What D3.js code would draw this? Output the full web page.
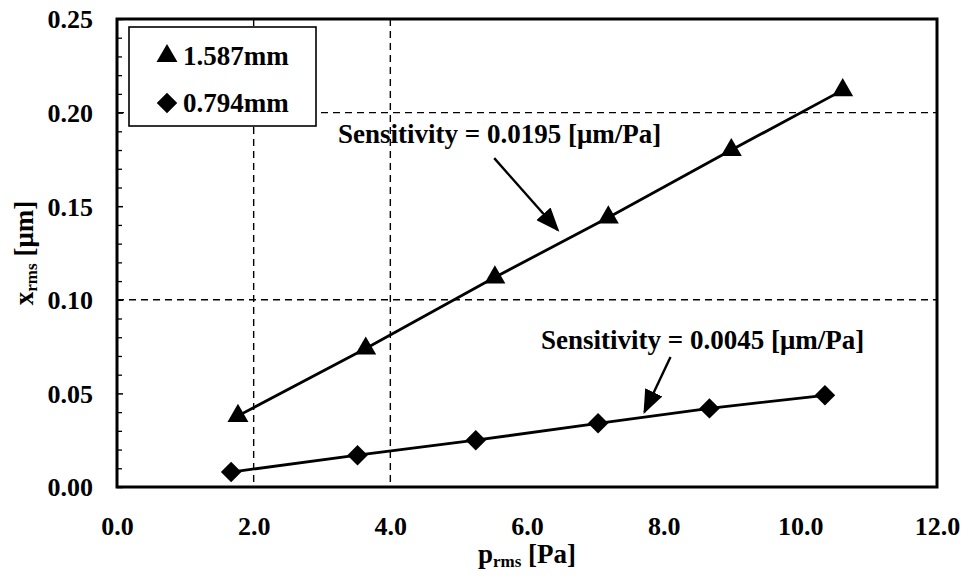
<!DOCTYPE html>
<html>
<head>
<meta charset="utf-8">
<script src="https://cdn.jsdelivr.net/npm/d3@7"></script>
<style>
  html, body { margin: 0; padding: 0; background: #fff; }
  svg { display: block; }
  text { font-family: "Liberation Serif", "Times New Roman", serif; font-weight: bold; fill: #000; }
</style>
</head>
<body>
<svg id="chart" width="969" height="577"></svg>
<script>
// ---- data ----
const series1Name = "1.587mm";
const series1X = [1.77, 3.64, 5.53, 7.19, 8.99, 10.62];
const series1Y = [0.038, 0.074, 0.112, 0.144, 0.180, 0.212];

const series2Name = "0.794mm";
const series2X = [1.67, 3.52, 5.25, 7.04, 8.67, 10.36];
const series2Y = [0.008, 0.017, 0.025, 0.034, 0.042, 0.049];

const xTicks = [0, 2, 4, 6, 8, 10, 12];
const yTicks = [0, 0.05, 0.10, 0.15, 0.20, 0.25];
const yMinorTicks = [0.01,0.02,0.03,0.04,0.06,0.07,0.08,0.09,0.11,0.12,0.13,0.14,0.16,0.17,0.18,0.19,0.21,0.22,0.23,0.24];
const xGrid = [2, 4];
const yGrid = [0.10, 0.20];

const annotationTexts = ["Sensitivity = 0.0195 [\u03bcm/Pa]", "Sensitivity = 0.0045 [\u03bcm/Pa]"];
const annotationTextX = [5.6, 8.57];
const annotationTextY = [0.1838, 0.0735];
const arrowFromX = [5.52, 8.10];
const arrowFromY = [0.1757, 0.0694];
const arrowToX = [6.45, 7.72];
const arrowToY = [0.1373, 0.0401];

// ---- layout ----
const svg = d3.select("#chart");
const L = 117, R = 937, T = 19, B = 487;
const x = d3.scaleLinear().domain([0, 12]).range([L, R]);
const y = d3.scaleLinear().domain([0, 0.25]).range([B, T]);

// defs
svg.append("defs").append("marker")
  .attr("id", "ah").attr("viewBox", "0 0 10 10")
  .attr("refX", 9).attr("refY", 5)
  .attr("markerWidth", 24).attr("markerHeight", 19)
  .attr("preserveAspectRatio", "none")
  .attr("markerUnits", "userSpaceOnUse").attr("orient", "auto")
  .append("path").attr("d", "M0,0 L10,5 L0,10 Z").attr("fill", "#000");

// grid lines
const grid = svg.append("g").attr("stroke", "#000").attr("stroke-width", 1.4).attr("stroke-dasharray", "7,5");
grid.selectAll("line.gx").data(xGrid).join("line").attr("class", "gx")
  .attr("x1", d => x(d)).attr("x2", d => x(d)).attr("y1", T).attr("y2", B);
grid.selectAll("line.gy").data(yGrid).join("line").attr("class", "gy")
  .attr("x1", L).attr("x2", R).attr("y1", d => y(d)).attr("y2", d => y(d));

// axes
const yAxis = svg.append("g").attr("transform", `translate(${L},0)`)
  .call(d3.axisLeft(y).tickValues(yTicks).tickFormat(d3.format(".2f")).tickSize(-6).tickPadding(24));
yAxis.select(".domain").remove();
yAxis.selectAll("line").attr("stroke-width", 1.5);
yAxis.selectAll("text").attr("font-size", 26).attr("font-family", null).attr("dy", "0.34em");

const yMinor = svg.append("g").attr("transform", `translate(${L},0)`)
  .call(d3.axisLeft(y).tickValues(yMinorTicks).tickFormat("").tickSize(-5));
yMinor.select(".domain").remove();
yMinor.selectAll("line").attr("stroke-width", 1.3);

const xAxis = svg.append("g").attr("transform", `translate(0,${B})`)
  .call(d3.axisBottom(x).tickValues(xTicks).tickFormat(d3.format(".1f")).tickSize(0).tickPadding(0));
xAxis.select(".domain").remove();
xAxis.selectAll("text").attr("font-size", 26).attr("font-family", null).attr("dy", null).attr("y", 48);

// frame
svg.append("rect").attr("x", L).attr("y", T).attr("width", R - L).attr("height", B - T)
  .attr("fill", "none").attr("stroke", "#000").attr("stroke-width", 3);

// series lines
const line = d3.line().x(d => x(d[0])).y(d => y(d[1]));
const s1 = series1X.map((v, i) => [v, series1Y[i]]);
const s2 = series2X.map((v, i) => [v, series2Y[i]]);
svg.append("path").attr("d", line(s1)).attr("fill", "none").attr("stroke", "#000").attr("stroke-width", 2.8);
svg.append("path").attr("d", line(s2)).attr("fill", "none").attr("stroke", "#000").attr("stroke-width", 2.8);

const tri = d3.symbol(d3.symbolTriangle, 190)();
const dia = d3.symbol(d3.symbolSquare, 210)();
svg.append("g").selectAll("path").data(s1).join("path")
  .attr("d", tri).attr("transform", d => `translate(${x(d[0])},${y(d[1])})`).attr("fill", "#000");
svg.append("g").selectAll("path").data(s2).join("path")
  .attr("d", dia).attr("transform", d => `translate(${x(d[0])},${y(d[1])}) rotate(45)`).attr("fill", "#000");

// annotations
annotationTexts.forEach((t, i) => {
  svg.append("text").attr("x", x(annotationTextX[i])).attr("y", y(annotationTextY[i]))
    .attr("text-anchor", "middle").attr("font-size", 27).text(t);
  svg.append("line")
    .attr("x1", x(arrowFromX[i])).attr("y1", y(arrowFromY[i]))
    .attr("x2", x(arrowToX[i])).attr("y2", y(arrowToY[i]))
    .attr("stroke", "#000").attr("stroke-width", 2.4).attr("marker-end", "url(#ah)");
});

// legend
const lg = svg.append("g");
lg.append("rect").attr("x", 129).attr("y", 27).attr("width", 187).attr("height", 99)
  .attr("fill", "#fff").attr("stroke", "#000").attr("stroke-width", 1.6);
lg.append("path").attr("d", tri).attr("transform", "translate(167,56)").attr("fill", "#000");
lg.append("text").attr("x", 183).attr("y", 65).attr("font-size", 27).text(series1Name);
lg.append("path").attr("d", dia).attr("transform", "translate(167,103) rotate(45)").attr("fill", "#000");
lg.append("text").attr("x", 183).attr("y", 112).attr("font-size", 27).text(series2Name);

// axis titles
const xt = svg.append("text").attr("x", (L + R) / 2).attr("y", 563).attr("text-anchor", "middle").attr("font-size", 27);
xt.append("tspan").text("p");
xt.append("tspan").attr("font-size", 17).attr("dy", 4).text("rms");
xt.append("tspan").attr("dy", -4).text(" [Pa]");

const yt = svg.append("text").attr("transform", `translate(33,${(T + B) / 2}) rotate(-90)`)
  .attr("text-anchor", "middle").attr("font-size", 27);
yt.append("tspan").text("x");
yt.append("tspan").attr("font-size", 17).attr("dy", 4).text("rms");
yt.append("tspan").attr("dy", -4).text(" [\u03bcm]");
</script>
</body>
</html>
